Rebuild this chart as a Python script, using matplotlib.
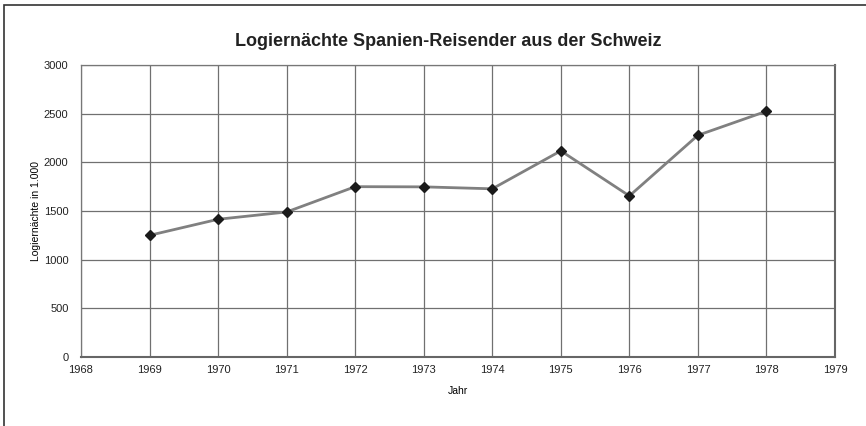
import matplotlib
matplotlib.use("Agg")
import matplotlib.pyplot as plt
from matplotlib.patches import Rectangle

# data
years = [1969, 1970, 1971, 1972, 1973, 1974, 1975, 1976, 1977, 1978]
nights = [1250, 1415, 1490, 1750, 1748, 1728, 2118, 1655, 2278, 2525]

x_ticks = list(range(1968, 1980))
y_ticks = [0, 500, 1000, 1500, 2000, 2500, 3000]

plt.rcParams['font.family'] = ['Liberation Sans', 'DejaVu Sans']

fig = plt.figure(figsize=(8.66, 4.26), dpi=100)
ax = fig.add_axes([81 / 866, 69 / 426, (835 - 81) / 866, (357 - 65) / 426])

# outer frame (only left and top visible in the reference)
fig.patches.append(Rectangle((4 / 866, -0.1), 1.2, (421 + 43) / 426,
                             transform=fig.transFigure, fill=False,
                             edgecolor='#333333', linewidth=1.2))

ax.plot(years, nights, color='#808080', linewidth=2, zorder=3)
ax.plot(years, nights, linestyle='none', marker='D', markersize=5,
        color='#1a1a1a', zorder=4)

ax.set_xlim(1968, 1979)
ax.set_ylim(0, 3000)
ax.set_xticks(x_ticks)
ax.set_yticks(y_ticks)
ax.tick_params(length=0, labelsize=8, colors='#222222')
ax.tick_params(axis='y', pad=9)
ax.tick_params(axis='x', pad=6)
ax.grid(True, color='#707070', linewidth=0.9)
ax.set_axisbelow(True)

for side in ['left', 'top']:
    ax.spines[side].set_color('#777777')
    ax.spines[side].set_linewidth(0.9)
for side in ['right', 'bottom']:
    ax.spines[side].set_color('#666666')
    ax.spines[side].set_linewidth(1.5)

ax.set_xlabel("Jahr", fontsize=7.5, labelpad=8)
ax.set_ylabel("Logiernächte in 1.000", fontsize=7.5, labelpad=2)
fig.text(448 / 866, 1 - 42 / 426, "Logiernächte Spanien-Reisender aus der Schweiz",
         ha='center', va='center', fontsize=13, fontweight='bold', color='#222222')

fig.savefig("out.png", dpi=100)
